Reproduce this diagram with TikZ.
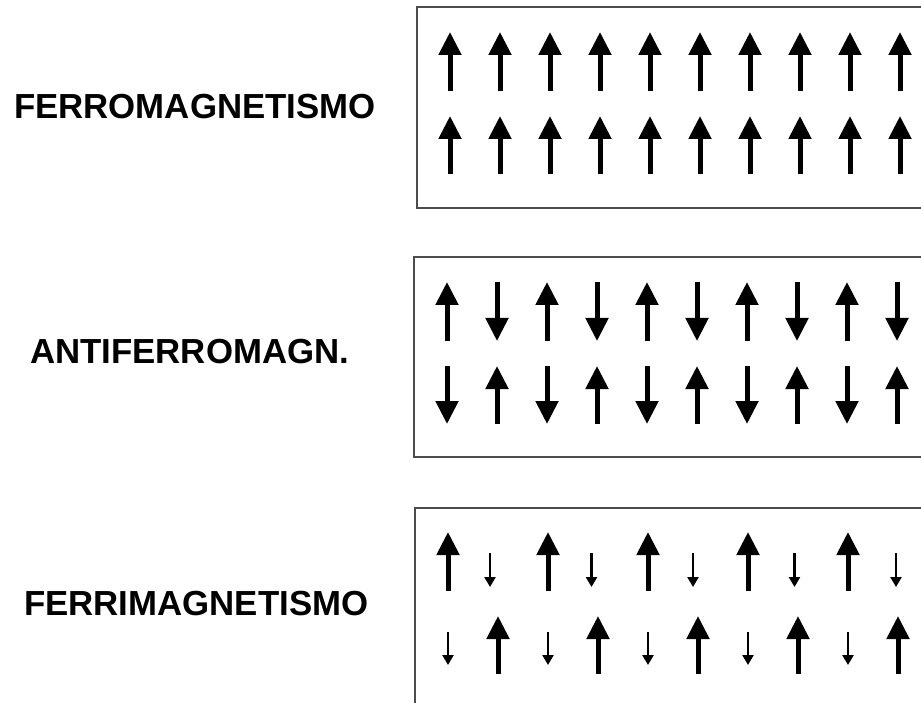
\documentclass[tikz,border=0pt]{standalone}
\usepackage{fontspec}
\setmainfont{Liberation Sans}
\usetikzlibrary{arrows.meta}
\tikzset{
  bigarrow/.style={line width=5pt, -{Triangle[length=23pt,width=22pt]}},
  smallarrow/.style={line width=2.4pt, -{Triangle[length=10pt,width=11pt]}},
  panel/.style={draw=black!70, line width=1.5pt},
  label/.style={anchor=base west, inner sep=0pt, font=\bfseries\fontsize{34.8}{40}\selectfont}
}
\begin{document}
\begin{tikzpicture}[x=1pt,y=-1pt]
\useasboundingbox (0,0) rectangle (921,703);
\clip (0,0) rectangle (921,703);
\fill[white] (0,0) rectangle (921,703);
% labels
\node[label] (ferro) at (14,119) {FERROMAGNETISMO};
\node[label] (anti) at (30,363) {ANTIFERROMAGN.};
\node[label] (ferri) at (24,615) {FERRIMAGNETISMO};
% panels
\draw[panel] (417,7) rectangle (940,208);
\draw[panel] (414,257) rectangle (940,457);
\draw[panel] (415,508) rectangle (940,720);
% ferromagnetic
\foreach \i in {0,...,9}{
  \draw[bigarrow] (450+50*\i,91) -- (450+50*\i,32);
  \draw[bigarrow] (450+50*\i,174) -- (450+50*\i,116);
}
% antiferromagnetic
\foreach \i in {0,2,4,6,8}{
  \draw[bigarrow] (447+50*\i,341) -- (447+50*\i,282);
  \draw[bigarrow] (497+50*\i,282) -- (497+50*\i,341);
  \draw[bigarrow] (447+50*\i,366) -- (447+50*\i,424);
  \draw[bigarrow] (497+50*\i,424) -- (497+50*\i,366);
}
% ferrimagnetic
\foreach \i in {0,...,4}{
  \draw[bigarrow] (448+100*\i,591) -- (448+100*\i,532);
  \draw[smallarrow] (490+101.5*\i,553) -- (490+101.5*\i,587);
  \draw[smallarrow] (448+100*\i,632) -- (448+100*\i,665);
  \draw[bigarrow] (498+100*\i,674) -- (498+100*\i,616);
}
\end{tikzpicture}
\end{document}
